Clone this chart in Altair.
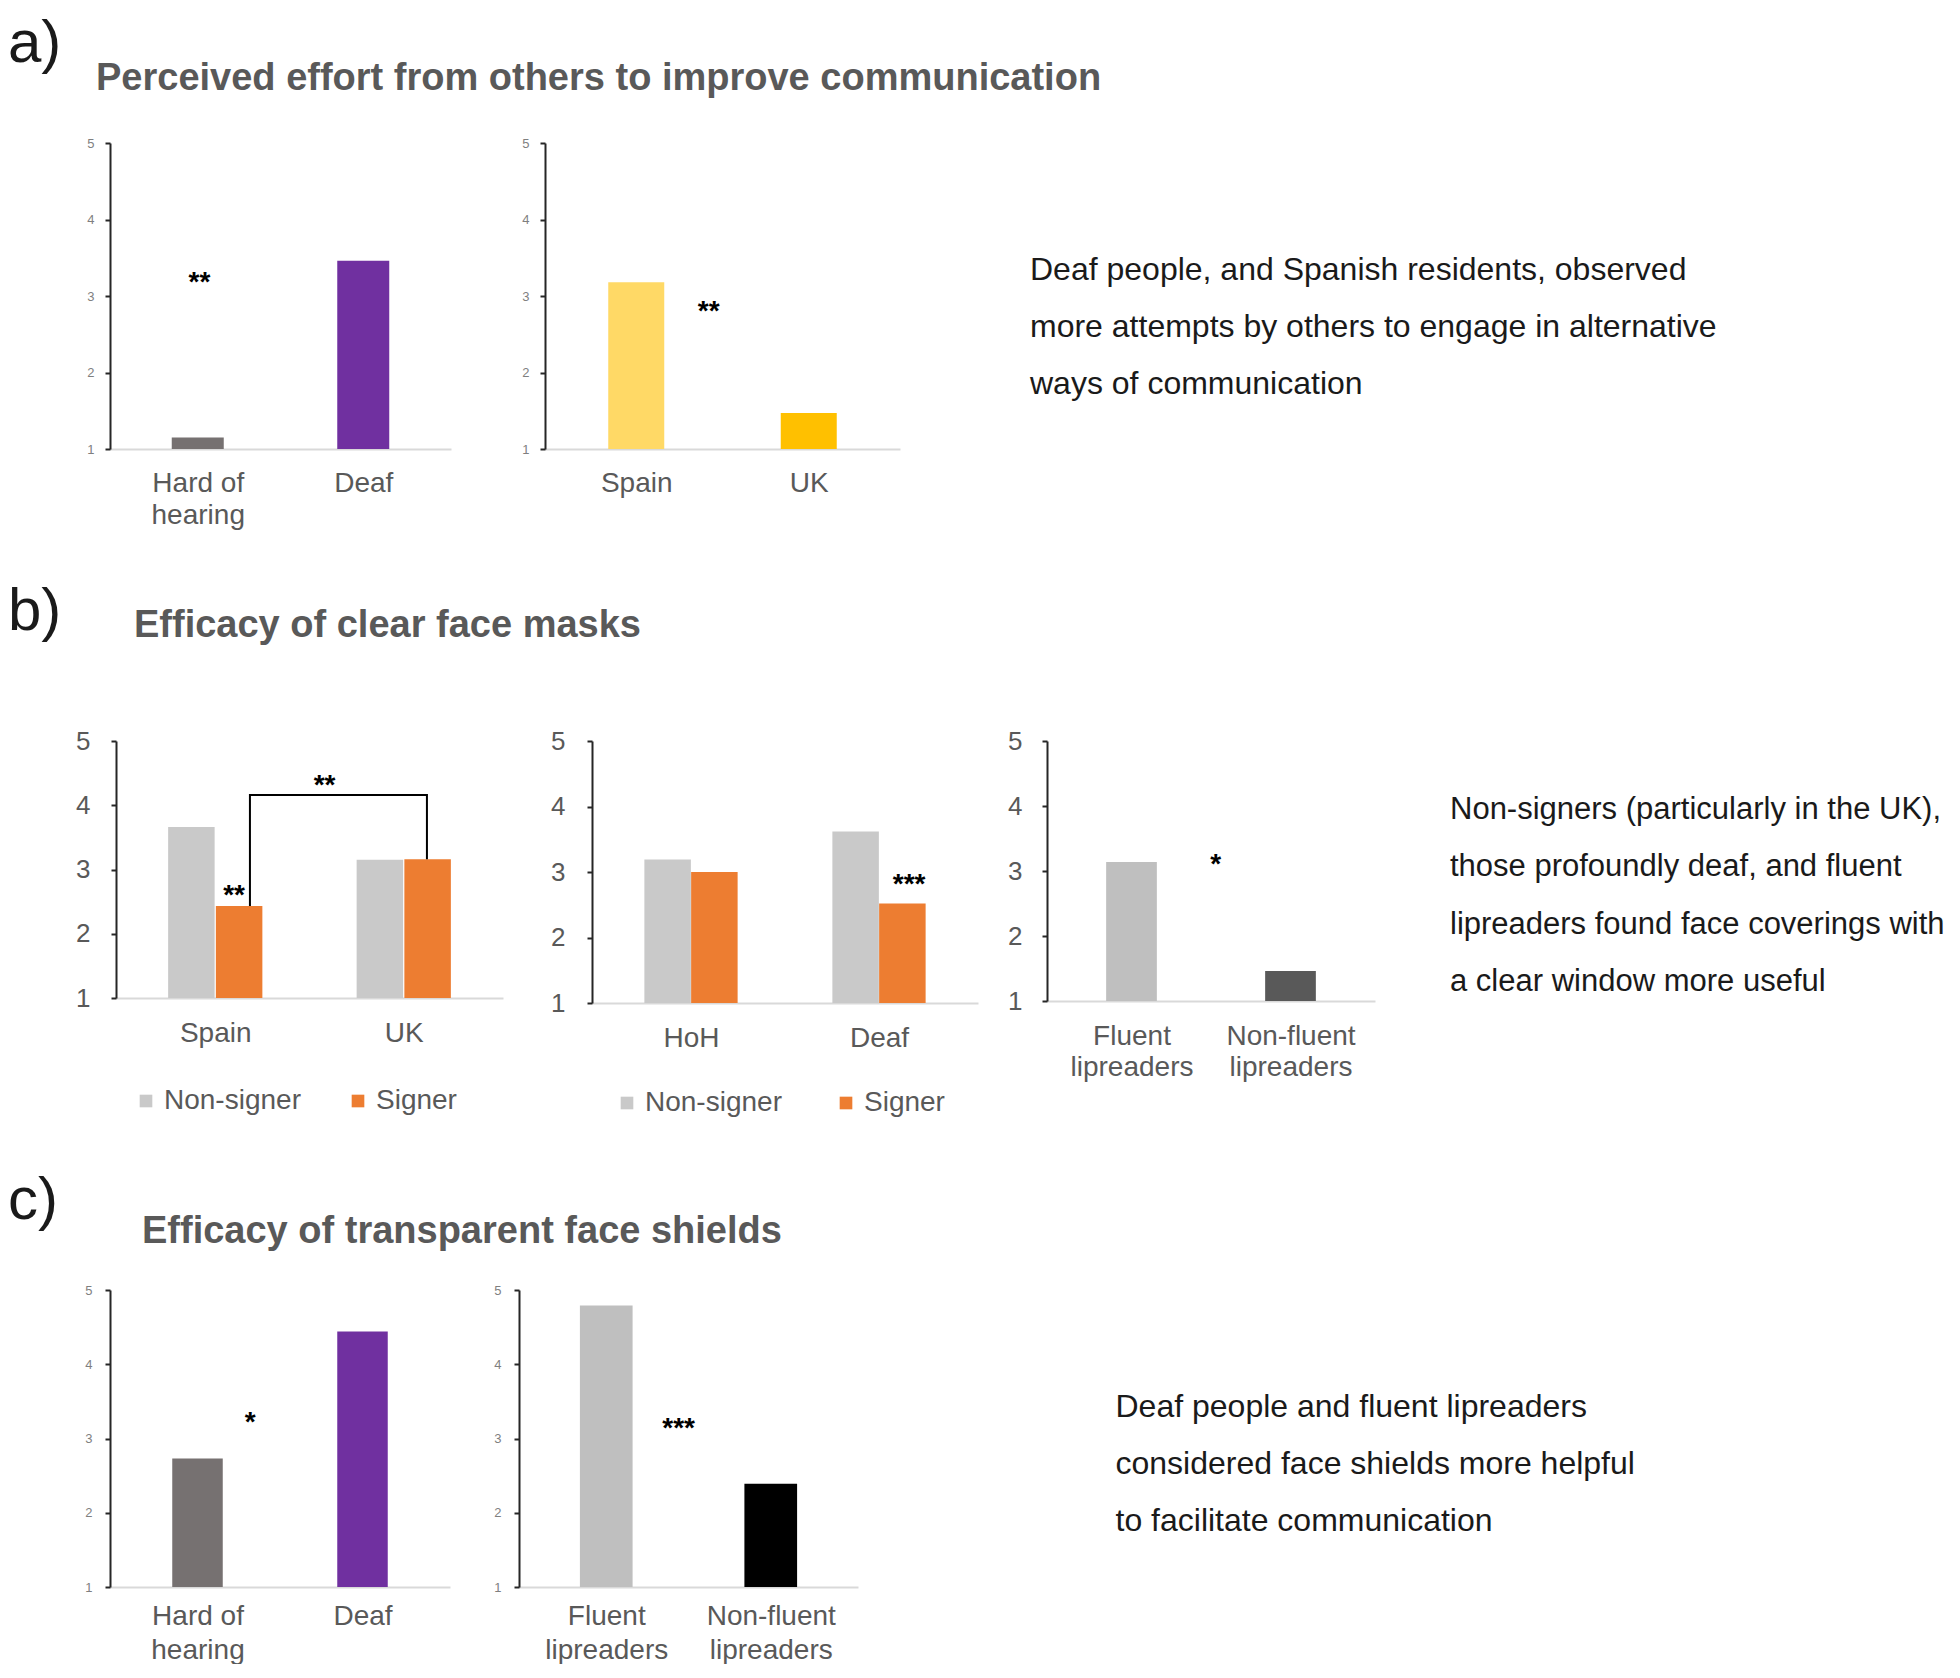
import json
import altair as alt
import pandas as pd

FONT = "Liberation Sans"
LABEL_GREY = "#595959"
TICK_GREY = "#7f7f7f"

# ---------------- values ----------------
letters = ["a)", "b)", "c)"]
titles = [
    "Perceived effort from others to improve communication",
    "Efficacy of clear face masks",
    "Efficacy of transparent face shields",
]
notes_a = [
    "Deaf people, and Spanish residents, observed",
    "more attempts by others to engage in alternative",
    "ways of communication",
]
notes_b = [
    "Non-signers (particularly in the UK),",
    "those profoundly deaf, and  fluent",
    "lipreaders found face coverings with",
    "a clear window more useful",
]
notes_c = [
    "Deaf people and fluent lipreaders",
    "considered face shields more helpful",
    "to facilitate communication",
]

hearing_labels = [["Hard of", "hearing"], ["Deaf"]]
country_labels = [["Spain"], ["UK"]]
hoh_labels = [["HoH"], ["Deaf"]]
lip_labels = [["Fluent", "lipreaders"], ["Non-fluent", "lipreaders"]]
sign_groups = ["Non-signer", "Signer"]

a1_values = [1.15, 3.46]
a2_values = [3.18, 1.47]
b1_nonsigner = [3.66, 3.15]
b1_signer = [2.43, 3.16]
b2_nonsigner = [3.19, 3.62]
b2_signer = [3.00, 2.52]
b3_values = [3.14, 1.46]
c1_values = [2.73, 4.44]
c2_values = [4.79, 2.39]

hearing_colors = ["#767171", "#7030a0"]
country_colors = ["#ffd966", "#ffc000"]
sign_colors = ["#c9c9c9", "#ed7d31"]
lip_colors_b = ["#bfbfbf", "#595959"]
lip_colors_c = ["#bfbfbf", "#000000"]

# significance marks: text, x on the 0..2 category axis, y value
a1_sig = (["**"], [0.51], [3.28])
a2_sig = (["**"], [0.92], [2.90])
b1_sig = (["**", "**"], [1.08, 0.60], [4.42, 2.71])
b2_sig = (["***"], [1.66], [2.92])
b3_sig = (["*"], [1.03], [3.22])
c1_sig = (["*"], [0.82], [3.31])
c2_sig = (["***"], [0.94], [3.24])
b1_bracket_x = [0.684, 0.684, 1.623, 1.623]
b1_bracket_y = [2.43, 4.16, 4.16, 3.16]


# ---------------- helpers ----------------
def label_expr(labels):
    expr = json.dumps(labels[-1])
    for i in range(len(labels) - 2, -1, -1):
        expr = f"datum.value < {i + 1} ? {json.dumps(labels[i])} : ({expr})"
    return expr


def names(labels):
    return [" ".join(l) for l in labels]


def simple_df(labels, values):
    return pd.DataFrame({
        "cat": names(labels),
        "pos": [i + 0.5 for i in range(len(labels))],
        "value": values,
    })


def grouped_df(labels, v1, v2, width, half_sep_px):
    n = len(labels)
    off = half_sep_px * n / width
    rows = []
    for i, nm in enumerate(names(labels)):
        rows.append({"cat": nm, "g": sign_groups[0], "pos": i + 0.5 - off, "value": v1[i]})
        rows.append({"cat": nm, "g": sign_groups[1], "pos": i + 0.5 + off, "value": v2[i]})
    return pd.DataFrame(rows)


def panel(labels, df, color_field, color_domain, color_range, sig, width, height,
          bar_px, st, legend=None, bracket=None):
    n = len(labels)
    xs = alt.Scale(domain=[0, n], nice=False, zero=False)
    ys = alt.Scale(domain=[1, 5], nice=False, zero=False)
    xa = alt.Axis(values=[i + 0.5 for i in range(n)], labelExpr=label_expr(labels),
                  title=None, ticks=False, grid=False, domainColor="#d9d9d9",
                  domainWidth=2, labelFont=FONT, labelFontSize=28,
                  labelColor=LABEL_GREY, labelPadding=st["xpad"],
                  labelLineHeight=st["xlh"], labelFlush=False, labelOverlap=False,
                  labelBaseline="top", minExtent=st["xext"], maxExtent=st["xext"])
    ya = alt.Axis(values=[1, 2, 3, 4, 5], format="d", title=None, grid=False,
                  domainColor="#262626", domainWidth=2, tickColor="#262626",
                  tickWidth=2, tickSize=5, labelFont=FONT,
                  labelFontSize=st["yfs"], labelColor=st["ycol"],
                  labelPadding=st["ypad"], minExtent=st["yext"], maxExtent=st["yext"])

    def X(f):
        return alt.X(f, type="quantitative", scale=xs, axis=xa)

    def Y(f):
        return alt.Y(f, type="quantitative", scale=ys, axis=ya)

    bars = alt.Chart(df).mark_bar(size=bar_px, orient="vertical").encode(
        x=X("pos"), y=Y("value"), y2=alt.datum(1),
        color=alt.Color(f"{color_field}:N",
                        scale=alt.Scale(domain=color_domain, range=color_range),
                        legend=legend),
    )
    layers = [bars]
    if bracket is not None:
        bdf = pd.DataFrame({"x": bracket[0], "y": bracket[1],
                            "o": list(range(len(bracket[0])))})
        layers.append(alt.Chart(bdf).mark_line(color="#000000", strokeWidth=2).encode(
            x=X("x"), y=Y("y"), order="o:Q"))
    sdf = pd.DataFrame({"t": sig[0], "x": sig[1], "y": sig[2]})
    layers.append(alt.Chart(sdf).mark_text(font=FONT, fontSize=28, fontWeight="bold",
                                           color="#000000", baseline="alphabetic",
                                           dy=16).encode(
        x=X("x"), y=Y("y"), text="t:N"))
    return alt.layer(*layers).properties(width=width, height=height)


def header(letter, title, height, letter_y, title_x, title_y):
    l = alt.Chart(pd.DataFrame({"t": [letter]})).mark_text(
        font=FONT, fontSize=60, color="#1a1a1a", align="left", baseline="alphabetic"
    ).encode(text="t:N", x=alt.value(0), y=alt.value(letter_y))
    t = alt.Chart(pd.DataFrame({"t": [title]})).mark_text(
        font=FONT, fontSize=38, fontWeight="bold", color=LABEL_GREY, align="left",
        baseline="alphabetic"
    ).encode(text="t:N", x=alt.value(title_x), y=alt.value(title_y))
    return alt.layer(l, t).properties(width=1100, height=height)


def note(lines, width, height, x, y, lh, fs):
    return alt.Chart(pd.DataFrame({"t": ["\n".join(lines)]})).mark_text(
        font=FONT, fontSize=fs, color="#1a1a1a", align="left", baseline="alphabetic",
        lineBreak="\n", lineHeight=lh
    ).encode(text="t:N", x=alt.value(x), y=alt.value(y)).properties(width=width, height=height)


def spacer():
    return alt.Chart(pd.DataFrame({"t": [""]})).mark_text().encode(
        text="t:N").properties(width=1, height=10)


small = dict(yfs=13, ycol=TICK_GREY)
big = dict(yfs=26, ycol=LABEL_GREY)

# ---------------- row a ----------------
stA1 = dict(small, ypad=11, yext=101, xpad=20, xlh=32, xext=100)
stA2 = dict(small, ypad=11, yext=94, xpad=20, xlh=32, xext=100)
pA1 = panel(hearing_labels, simple_df(hearing_labels, a1_values), "cat",
            names(hearing_labels), hearing_colors, a1_sig, 341, 306, 52, stA1)
pA2 = panel(country_labels, simple_df(country_labels, a2_values), "cat",
            names(country_labels), country_colors, a2_sig, 355, 306, 56, stA2)
rowA = alt.hconcat(spacer(), pA1, pA2, note(notes_a, 830, 300, 130, 137, 57, 32), spacing=0)

# ---------------- row b ----------------
stB1 = dict(big, ypad=21, yext=107, xpad=21, xlh=31, xext=80)
stB2 = dict(big, ypad=22, yext=89, xpad=21, xlh=31, xext=80)
stB3 = dict(big, ypad=20, yext=69, xpad=21, xlh=31, xext=80)


def sign_legend(x, y, colpad):
    return alt.Legend(orient="none", legendX=x, legendY=y, direction="horizontal",
                      title=None, symbolType="square", symbolSize=160,
                      symbolStrokeWidth=0, labelFont=FONT, labelFontSize=28,
                      labelColor=LABEL_GREY, labelOffset=4, columnPadding=colpad,
                      padding=0)


pB1 = panel(country_labels, grouped_df(country_labels, b1_nonsigner, b1_signer, 387, 24.5),
            "g", sign_groups, sign_colors, b1_sig, 387, 257, 46.5, stB1,
            legend=sign_legend(16, 346, 43), bracket=(b1_bracket_x, b1_bracket_y))
pB2 = panel(hoh_labels, grouped_df(hoh_labels, b2_nonsigner, b2_signer, 386, 24),
            "g", sign_groups, sign_colors, b2_sig, 386, 262, 46.5, stB2,
            legend=sign_legend(21, 348, 50))
pB3 = panel(lip_labels, simple_df(lip_labels, b3_values), "cat", names(lip_labels),
            lip_colors_b, b3_sig, 328, 260, 50.7, stB3)
rowB = alt.hconcat(spacer(), pB1, pB2, pB3,
                   note(notes_b, 570, 250, 75, 77.5, 57.5, 31), spacing=0)

# ---------------- row c ----------------
stC1 = dict(small, ypad=13, yext=101, xpad=15, xlh=34, xext=74)
stC2 = dict(small, ypad=13, yext=69, xpad=15, xlh=34, xext=74)
pC1 = panel(hearing_labels, simple_df(hearing_labels, c1_values), "cat",
            names(hearing_labels), hearing_colors, c1_sig, 340, 297, 50.5, stC1)
pC2 = panel(lip_labels, simple_df(lip_labels, c2_values), "cat", names(lip_labels),
            lip_colors_c, c2_sig, 339, 297, 52.7, stC2)
rowC = alt.hconcat(spacer(), pC1, pC2, note(notes_c, 700, 290, 257.5, 127, 57, 32), spacing=0)

rows = []
for r in (rowA, rowB, rowC):
    rows.append(r.resolve_scale(x="independent", y="independent", color="independent")
                .resolve_legend(color="independent"))

chart = alt.vconcat(
    header(letters[0], titles[0], 129, 54, 88, 82),
    rows[0],
    header(letters[1], titles[1], 178.5, 81, 126, 88),
    rows[1],
    header(letters[2], titles[2], 166.5, 102, 134, 126),
    rows[2],
    spacing=0,
).resolve_scale(x="independent", y="independent", color="independent").resolve_legend(
    color="independent"
).properties(padding=0, background="white").configure(font=FONT).configure_view(stroke=None)

chart.save("out.html", embed_options={"renderer": "svg", "actions": False})
